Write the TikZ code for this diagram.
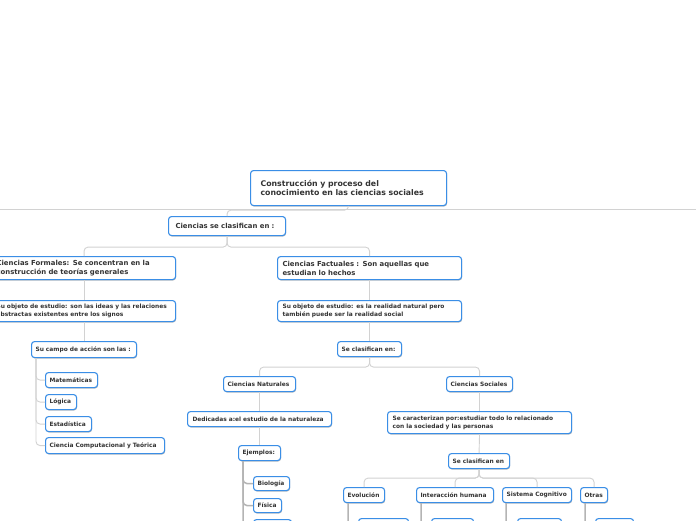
\documentclass[tikz,border=0pt]{standalone}
\usepackage{fontspec}
\newfontfamily\dv{DejaVu Sans}
\usetikzlibrary{shadows}
\definecolor{boxblue}{HTML}{3A8EE6}
\definecolor{txt}{HTML}{333333}
\definecolor{lgray}{HTML}{D2D2D2}
\definecolor{dgray}{HTML}{B4B4B4}
\tikzset{
 box/.style={draw=boxblue, line width=1.1pt, rounded corners=3pt, fill=white, text=txt,
   anchor=north west, inner ysep=0pt, align=left,
   drop shadow={shadow xshift=0.5pt, shadow yshift=-1pt, opacity=0.25, fill=black}},
 emptybox/.style={box, inner sep=0pt},
 f1/.style={font=\dv\bfseries\fontsize{7.8}{9.5}\selectfont},
 f2/.style={font=\dv\bfseries\fontsize{6.9}{9}\selectfont},
 f3/.style={font=\dv\bfseries\fontsize{5.9}{8}\selectfont},
 conn/.style={draw=lgray, line width=0.9pt, rounded corners=4pt},
 leaf/.style={draw=dgray, line width=1.5pt, rounded corners=4pt},
}
\begin{document}
\begin{tikzpicture}[x=1pt,y=-1pt]
\useasboundingbox (0,0) rectangle (696,520);
\clip (0,0) rectangle (696,520);
\fill[white] (0,0) rectangle (696,520);

% full width rule
\coordinate (L) at (0,209);
\coordinate (R) at (696,209);
\draw[conn] (L) -- (R);

% nodes
\node[box,f1,inner xsep=10pt,text width=176pt,minimum height=35pt] (root) at (250,170) {Construcción y proceso del\\conocimiento en las ciencias sociales};
\node[box,f2,inner xsep=7pt,text width=103pt,minimum height=19pt] (cls) at (168,216) {Ciencias se clasifican en :};

\node[box,f2,inner xsep=4pt,text width=175pt,minimum height=23pt] (form) at (-8,256) {Ciencias Formales: Se concentran en la\\construcción de teorías generales};
\node[box,f3,inner xsep=4pt,text width=175pt,minimum height=21pt] (fobj) at (-8,300) {Su objeto de estudio: son las ideas y las relaciones\\abstractas existentes entre los signos};
\node[box,f3,inner xsep=4pt,text width=97pt,minimum height=16pt] (campo) at (31,341) {Su campo de acción son las :};
\node[box,f3,inner xsep=4pt,text width=44pt,minimum height=15pt] (mat) at (45,372) {Matemáticas};
\node[box,f3,inner xsep=4pt,text width=23pt,minimum height=15pt] (log) at (45,394) {Lógica};
\node[box,f3,inner xsep=4pt,text width=38pt,minimum height=15pt] (est) at (45,416) {Estadística};
\node[box,f3,inner xsep=4pt,text width=111pt,minimum height=16pt] (comp) at (45,437) {Ciencia Computacional y Teórica};

\node[box,f2,inner xsep=5pt,text width=174pt,minimum height=23pt] (fact) at (277,256) {Ciencias Factuales : Son aquellas que\\estudian lo hechos};
\node[box,f3,inner xsep=5pt,text width=174pt,minimum height=21pt] (fobj2) at (277,300) {Su objeto de estudio: es la realidad natural pero\\también puede ser la realidad social};
\node[box,f3,inner xsep=4pt,text width=56pt,minimum height=15pt] (fcls) at (337,341) {Se clasifican en:};

\node[box,f3,inner xsep=4pt,text width=64pt,minimum height=15pt] (nat) at (223,376) {Ciencias Naturales};
\node[box,f3,inner xsep=5pt,text width=134pt,minimum height=15pt] (ded) at (187,411) {Dedicadas a:el estudio de la naturaleza};
\node[box,f3,inner xsep=4pt,text width=34pt,minimum height=15pt] (ej) at (238,445) {Ejemplos:};
\node[box,f3,inner xsep=4pt,text width=28pt,minimum height=14pt] (bio) at (253,476) {Biología};
\node[box,f3,inner xsep=4pt,text width=20pt,minimum height=14pt] (fis) at (253,498) {Física};
\node[emptybox,minimum width=38pt,minimum height=15pt] (ejc) at (253,519) {};

\node[box,f3,inner xsep=4pt,text width=58pt,minimum height=15pt] (soc) at (446,376) {Ciencias Sociales};
\node[box,f3,inner xsep=5pt,text width=174pt,minimum height=22pt] (car) at (387,411) {Se caracterizan por:estudiar todo lo relacionado\\con la sociedad y las personas};
\node[box,f3,inner xsep=4pt,text width=53pt,minimum height=15pt] (scls) at (448,453) {Se clasifican en};

\node[box,f3,inner xsep=4pt,text width=33pt,minimum height=15pt] (evo) at (343,487) {Evolución};
\node[box,f3,inner xsep=4pt,text width=69pt,minimum height=15pt] (inter) at (416,487) {Interacción humana};
\node[box,f3,inner xsep=4pt,text width=61pt,minimum height=15pt] (sist) at (502,487) {Sistema Cognitivo};
\node[box,f3,inner xsep=4pt,text width=19pt,minimum height=15pt] (otras) at (580,487) {Otras};

\node[emptybox,minimum width=50pt,minimum height=15pt] (evoc) at (358,518) {};
\node[emptybox,minimum width=42pt,minimum height=15pt] (interc) at (431,518) {};
\node[emptybox,minimum width=44pt,minimum height=15pt] (sistc) at (517,518) {};
\node[emptybox,minimum width=38pt,minimum height=15pt] (otrasc) at (595,518) {};

% connectors
\draw[conn] (root.south) -- ++(0,4) -| (cls.north);
\draw[conn] (cls.south) -- ++(0,11) -| (form.north);
\draw[conn] (cls.south) -- ++(0,11) -| (fact.north);
\draw[conn] (form.south) -- (fobj.north);
\draw[conn] (fobj.south) -- (campo.north);
\draw[conn] ([xshift=5pt]campo.south west) |- (mat.west);
\draw[conn] ([xshift=5pt]campo.south west) |- (log.west);
\draw[conn] ([xshift=5pt]campo.south west) |- (est.west);
\draw[conn] ([xshift=5pt]campo.south west) |- (comp.west);

\draw[conn] (fact.south) -- (fobj2.north);
\draw[conn] (fobj2.south) -- (fcls.north);
\draw[conn] (fcls.south) -- ++(0,10) -| (nat.north);
\draw[conn] (fcls.south) -- ++(0,10) -| (soc.north);

\draw[conn] (nat.south) -- (ded.north);
\draw[conn] (ded.south) -- (ej.north);
\draw[leaf] ([xshift=5pt]ej.south west) |- (bio.west);
\draw[leaf] ([xshift=5pt]ej.south west) |- (fis.west);
\draw[leaf] ([xshift=5pt]ej.south west) |- (ejc.west);

\draw[conn] (soc.south) -- (car.north);
\draw[conn] (car.south) -- (scls.north);
\draw[conn] (scls.south) -- ++(0,9) -| (evo.north);
\draw[conn] (scls.south) -- ++(0,9) -| (inter.north);
\draw[conn] (scls.south) -- ++(0,9) -| (sist.north);
\draw[conn] (scls.south) -- ++(0,9) -| (otras.north);

\draw[leaf] ([xshift=5pt]evo.south west) |- (evoc.west);
\draw[leaf] ([xshift=5pt]inter.south west) |- (interc.west);
\draw[leaf] ([xshift=4pt]sist.south west) |- (sistc.west);
\draw[leaf] ([xshift=5pt]otras.south west) |- (otrasc.west);
\end{tikzpicture}
\end{document}
